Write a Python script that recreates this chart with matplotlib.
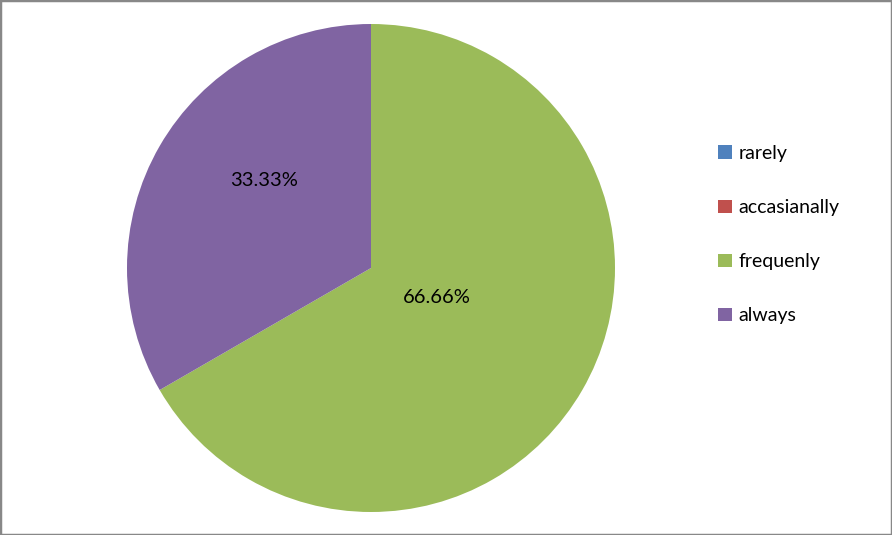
import matplotlib.pyplot as plt
from matplotlib.patches import Rectangle

labels = ['rarely', 'accasianally', 'frequenly', 'always']
values = [0, 0, 66.66, 33.33]
colors = ['#4F81BD', '#C0504D', '#9BBB59', '#8064A2']

plt.rcParams['font.family'] = ['Lato', 'DejaVu Sans']

fig = plt.figure(figsize=(8.92, 5.35), dpi=100)
ax = fig.add_axes([127 / 892, 23 / 535, 488 / 892, 488 / 535])

total = sum(values)

def fmt(pct):
    v = pct * total / 100
    return '' if v == 0 else '%.2f%%' % v

wedges, texts, autotexts = ax.pie(values, colors=colors, startangle=90,
                                  counterclock=False, autopct=fmt,
                                  textprops={'fontsize': 14.5, 'color': 'black'})
ax.set_xlim(-1, 1)
ax.set_ylim(-1, 1)
ax.set_aspect('equal')

# move the labels where excel puts them
autotexts[2].set_position((0.27, -0.12))
autotexts[3].set_position((-0.44, 0.36))

fig.legend(wedges, labels, loc='upper left', bbox_to_anchor=(718 / 892, 1 - 145 / 535),
           frameon=False, fontsize=14, handlelength=0.7, handleheight=0.7,
           handletextpad=0.35, labelspacing=1.91, borderpad=0, borderaxespad=0)

fig.patches.append(Rectangle((0, 0), 1, 1, transform=fig.transFigure, fill=False,
                             edgecolor='#888888', linewidth=2.5))

fig.savefig('out.png', dpi=100)
